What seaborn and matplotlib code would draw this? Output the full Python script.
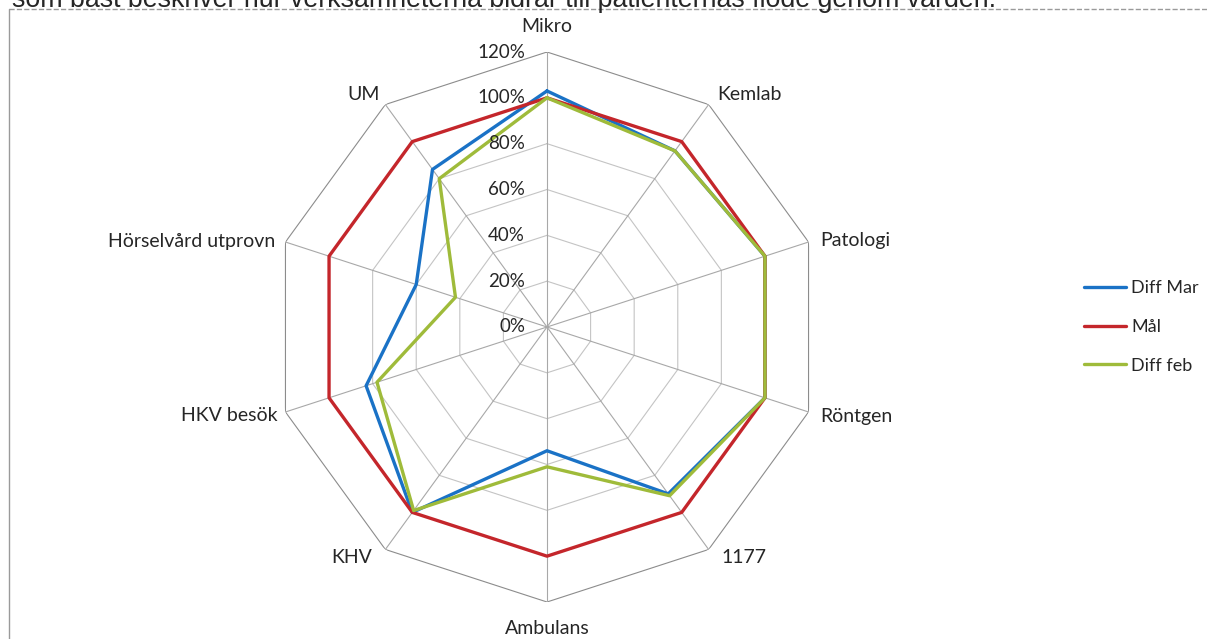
import numpy as np
import pandas as pd
import seaborn as sns
import matplotlib
matplotlib.use("Agg")
import matplotlib.pyplot as plt
from matplotlib.transforms import offset_copy

categories = ["Mikro", "Kemlab", "Patologi", "Röntgen", "1177", "Ambulans",
              "KHV", "HKV besök", "Hörselvård utprovn", "UM"]
diff_mar = [1.03, 0.95, 1.00, 1.00, 0.90, 0.54, 1.00, 0.83, 0.60, 0.85]
mal = [1.00, 1.00, 1.00, 1.00, 1.00, 1.00, 1.00, 1.00, 1.00, 1.00]
diff_feb = [1.00, 0.95, 1.00, 1.00, 0.91, 0.61, 0.99, 0.78, 0.42, 0.80]
series_names = ["Diff Mar", "Mål", "Diff feb"]
ring_ticks = [0.0, 0.2, 0.4, 0.6, 0.8, 1.0, 1.2]
ring_labels = ["0%", "20%", "40%", "60%", "80%", "100%", "120%"]
title_text = "som bäst beskriver hur verksamheterna bidrar till patienternas flöde genom vården."

colors = {"Diff Mar": "#1a72c6", "Mål": "#c4262b", "Diff feb": "#9fbb3a"}

# where each category label sits relative to its outer vertex (pixels, ha)
label_place = [(0, 25, "center"), (9, 10, "left"), (12, 2, "left"), (12, -5, "left"),
               (13, -8, "left"), (0, -27, "center"), (-13, -8, "right"),
               (-8, -4, "right"), (-10, 1, "right"), (-6, 10, "right")]

sns.set_style("white")
plt.rcParams["font.family"] = ["Lato", "DejaVu Sans"]

n = len(categories)
angles = [i * 2 * np.pi / n for i in range(n)]

# long table, each polygon closed by repeating first point
rows = []
for name, vals in zip(series_names, [diff_mar, mal, diff_feb]):
    for a, v in zip(angles + [2 * np.pi], vals + [vals[0]]):
        rows.append({"theta": a, "value": v, "serie": name})
df = pd.DataFrame(rows)

fig = plt.figure(figsize=(12.07, 6.39), dpi=100)
ax = fig.add_axes([272 / 1207, (639 - 327 - 275) / 639, 550 / 1207, 550 / 639],
                  projection="polar")
ax.set_theta_zero_location("N")
ax.set_theta_direction(-1)
ax.set_ylim(0, 1.2)
ax.grid(False)
ax.spines["polar"].set_visible(False)
ax.set_yticks([])
ax.set_xticks([])

# polygon grid
for r in ring_ticks[1:]:
    col = "#8c8c8c" if r == 1.2 else "#c4c4c4"
    ax.plot(angles + [angles[0]], [r] * (n + 1), color=col, lw=0.8, zorder=1)
for a in angles:
    ax.plot([a, a], [0, 1.2], color="#a8a8a8", lw=0.8, zorder=1)

sns.lineplot(data=df, x="theta", y="value", hue="serie", hue_order=series_names,
             palette=colors, sort=False, estimator=None, lw=2.4, ax=ax, zorder=3)
ax.set_xlabel("")
ax.set_ylabel("")

for a, cat, (dx, dy, ha) in zip(angles, categories, label_place):
    tr = offset_copy(ax.transData, fig=fig, x=dx, y=dy, units="dots")
    ax.text(a, 1.2, cat, transform=tr, ha=ha, va="center", fontsize=14)

tr = offset_copy(ax.transData, fig=fig, x=-22, y=0, units="dots")
for r, lab in zip(ring_ticks, ring_labels):
    ax.text(0, r, lab, transform=tr, ha="right", va="center", fontsize=13.5)

ax.legend(loc="center left", bbox_to_anchor=(1068 / 1207, 1 - 327 / 639),
          bbox_transform=fig.transFigure, frameon=False, fontsize=13,
          handlelength=2.3, labelspacing=1.25, handletextpad=0.3)

# frame of the chart area and clipped heading
fig.add_artist(plt.Line2D([9 / 1207, 1], [1 - 9 / 639, 1 - 9 / 639],
                          transform=fig.transFigure, color="#9a9a9a", lw=1, ls="--"))
fig.add_artist(plt.Line2D([9 / 1207, 9 / 1207], [0, 1 - 9 / 639],
                          transform=fig.transFigure, color="#9a9a9a", lw=1))
fig.text(12 / 1207, 1 - 7 / 639, title_text, fontsize=19.3, va="baseline",
         family=["Liberation Sans", "DejaVu Sans"])

fig.savefig("out.png", dpi=100)
